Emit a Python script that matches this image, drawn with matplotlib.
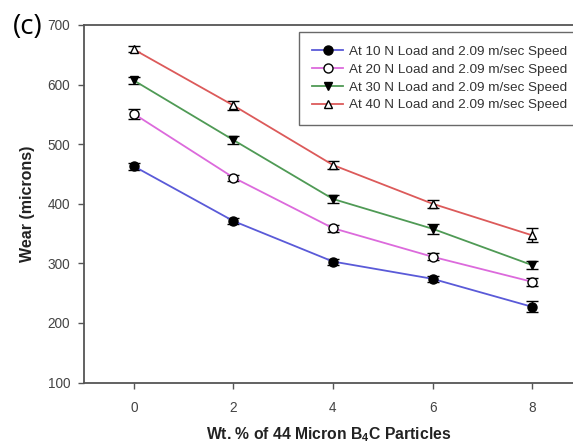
import matplotlib
matplotlib.use("Agg")
import matplotlib.pyplot as plt

# Wt.% of B4C particles
wt_percent = [0, 2, 4, 6, 8]

# Wear (microns) for each load at 2.09 m/sec
wear_10N = [463, 371, 303, 274, 227]
wear_20N = [551, 444, 359, 311, 269]
wear_30N = [607, 507, 408, 358, 297]
wear_40N = [659, 565, 465, 400, 347]

err_10N = [6, 5, 5, 5, 9]
err_20N = [8, 5, 6, 6, 7]
err_30N = [6, 6, 6, 8, 7]
err_40N = [5, 7, 6, 7, 12]

labels = [
    "At 10 N Load and 2.09 m/sec Speed",
    "At 20 N Load and 2.09 m/sec Speed",
    "At 30 N Load and 2.09 m/sec Speed",
    "At 40 N Load and 2.09 m/sec Speed",
]

x_ticks = [0, 2, 4, 6, 8]
y_ticks = [100, 200, 300, 400, 500, 600, 700]

plt.rcParams["font.family"] = ["Liberation Sans", "DejaVu Sans"]

W, H = 573, 446
fig = plt.figure(figsize=(W / 100, H / 100), dpi=100)
ax = fig.add_axes([84 / W, (H - 382.5) / H, (W - 84) / W, (382.5 - 25) / H])

series = [
    (wear_10N, err_10N, "#5a5ad8", "o", "black", 6.5),
    (wear_20N, err_20N, "#dc6adc", "o", "white", 6.5),
    (wear_30N, err_30N, "#4f9a55", "v", "black", 5.8),
    (wear_40N, err_40N, "#dc5a5a", "^", "white", 5.8),
]

handles = []
for (vals, errs, col, mk, face, ms), lab in zip(series, labels):
    ax.errorbar(wt_percent, vals, yerr=errs, fmt="none", ecolor="black",
                elinewidth=1.0, capsize=4, capthick=1.0, zorder=3)
    h, = ax.plot(wt_percent, vals, color=col, lw=1.3, marker=mk,
                 markersize=ms, markerfacecolor=face,
                 markeredgecolor="black", markeredgewidth=1.0,
                 label=lab, zorder=4)
    handles.append(h)

ax.set_xlim(-1.0, 8.82)
ax.set_ylim(100, 700)
ax.set_xticks(x_ticks)
ax.set_yticks(y_ticks)

for side in ("left", "bottom", "top"):
    ax.spines[side].set_color("#555555")
    ax.spines[side].set_linewidth(1.3)
ax.spines["right"].set_visible(False)

ax.tick_params(axis="both", direction="out", length=4, width=1.0,
               color="#555555", labelcolor="#444444", labelsize=9.8)
ax.tick_params(axis="x", pad=9)
ax.tick_params(axis="y", pad=6)

ax.set_xlabel("Wt. % of 44 Micron B$_\\mathregular{4}$C Particles",
              fontsize=11.3, fontweight="bold", color="#222222", labelpad=8)
ax.set_ylabel("Wear (microns)", fontsize=11.5, fontweight="bold",
              color="#222222", labelpad=9)

leg = ax.legend(handles=handles, loc="upper left",
                bbox_to_anchor=(299 / W, (H - 32) / H),
                bbox_transform=fig.transFigure,
                fontsize=9.7, frameon=True, fancybox=False,
                handlelength=2.3, handletextpad=0.4, labelspacing=0.4,
                borderpad=1.0, borderaxespad=0)
leg.get_frame().set_edgecolor("#444444")
leg.get_frame().set_linewidth(1.0)
for t in leg.get_texts():
    t.set_color("#333333")

fig.text(13 / W, (H - 27) / H, "(c)", fontsize=20, family=["Open Sans", "DejaVu Sans"],
         ha="left", va="center", color="black")

fig.savefig("out.png", dpi=100)
